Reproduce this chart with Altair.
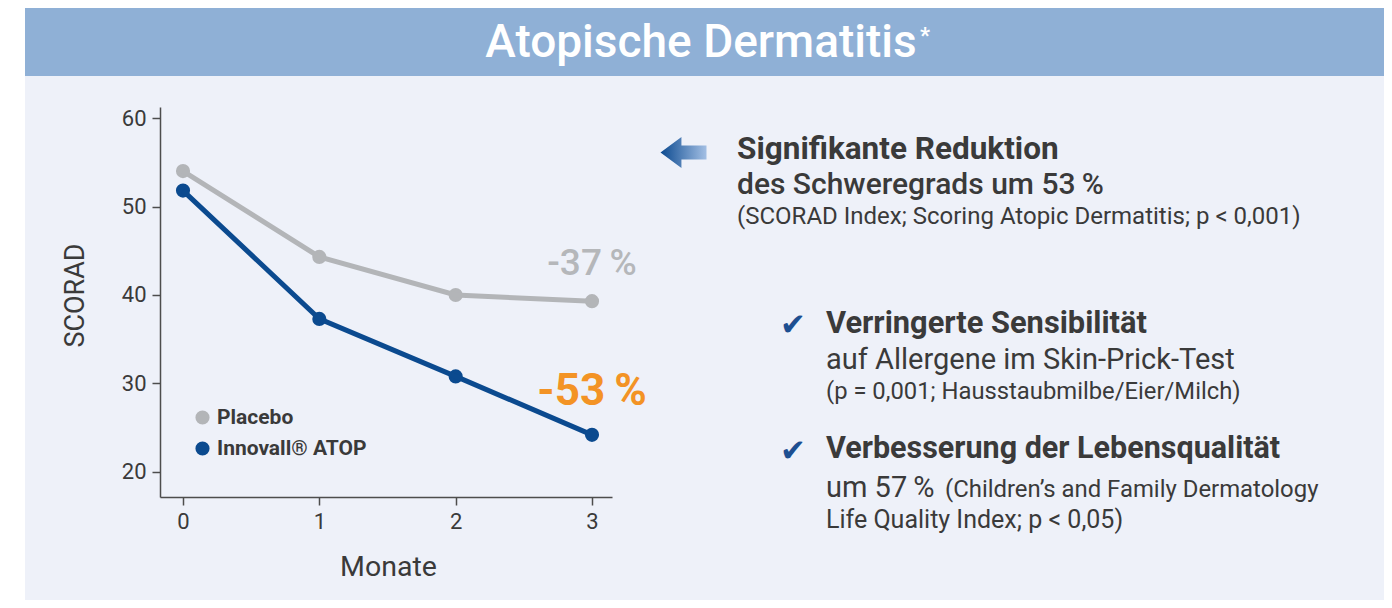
import altair as alt
import pandas as pd

# ---------------- data ----------------
months = [0, 1, 2, 3]
placebo = [54.0, 44.3, 40.0, 39.3]
innovall = [51.8, 37.3, 30.8, 24.2]
series_names = ["Placebo", "Innovall® ATOP"]
series_colors = ["#b3b5b8", "#0b4a8f"]
x_ticks = [0, 1, 2, 3]
y_ticks = [20, 30, 40, 50, 60]
annot_labels = ["-37\u2009%", "-53\u2009%"]
annot_x = [3, 3]
annot_y = [42.3, 27.6]

rows = []
for m, v in zip(months, placebo):
    rows.append({"month": m, "score": v, "series": series_names[0]})
for m, v in zip(months, innovall):
    rows.append({"month": m, "score": v, "series": series_names[1]})
df = pd.DataFrame(rows)
annot = pd.DataFrame({"label": annot_labels, "x": annot_x, "y": annot_y,
                      "kind": ["placebo", "innovall"]})

FONT = "Roboto"
TXT = "#3a3a3a"
AX = "#4d4d4d"

xscale = alt.Scale(domain=[-0.1687, 3.1467], nice=False, zero=False)
yscale = alt.Scale(domain=[17.175, 61.243], nice=False, zero=False)

xaxis = alt.Axis(values=x_ticks, format="d", title="Monate", titleFontSize=28.5,
                 titleFont=FONT, titleFontWeight="normal", titleColor=TXT,
                 titleX=228, titleY=78, titleBaseline="alphabetic", titleAlign="center",
                 labelFontSize=22, labelColor=TXT, labelFont=FONT, labelPadding=6,
                 tickSize=8, tickColor=AX, tickWidth=1.5, domainColor=AX, domainWidth=1.5,
                 grid=False, labelFlush=False, zindex=2)
yaxis = alt.Axis(values=y_ticks, format="d", title="SCORAD", titleFontSize=27,
                 titleFont=FONT, titleFontWeight="normal", titleColor=TXT,
                 titleX=-85, titleY=188, titleAngle=270, titleBaseline="middle",
                 titleAlign="center",
                 labelFontSize=22, labelColor=TXT, labelFont=FONT, labelPadding=6,
                 tickSize=8, tickColor=AX, tickWidth=1.5, domainColor=AX, domainWidth=1.5,
                 grid=False, zindex=2)

legend = alt.Legend(title=None, orient="none", legendX=32, legendY=300,
                    symbolType="circle", symbolSize=200, symbolStrokeWidth=0,
                    symbolOpacity=1, labelFontSize=21, labelFontWeight="bold",
                    labelFont=FONT, labelColor=TXT, labelOffset=4, rowPadding=9,
                    padding=0)

color = alt.Color("series:N", scale=alt.Scale(domain=series_names, range=series_colors),
                  legend=legend)

one = alt.Data(values=[{}])


def rect(x1, x2, y1, y2, c):
    return alt.Chart(one).mark_rect(color=c).encode(
        x=alt.value(x1), x2=alt.value(x2), y=alt.value(y1), y2=alt.value(y2))


def txt(s, x, y, size, weight="normal", c=TXT, align="left", font=FONT):
    return alt.Chart(one).mark_text(
        text=s, align=align, baseline="alphabetic", fontSize=size,
        fontWeight=weight, color=c, font=font).encode(x=alt.value(x), y=alt.value(y))


band = rect(-135, 1224, -100, -31, "#8fb0d6")
panel = rect(-135, 1224, -31, 493, "#eef1f9")

points = alt.Chart(df).mark_circle(size=200, opacity=1).encode(
    x=alt.X("month:Q", scale=xscale, axis=xaxis),
    y=alt.Y("score:Q", scale=yscale, axis=yaxis),
    color=color)
lines = alt.Chart(df).mark_line(strokeWidth=5).encode(
    x=alt.X("month:Q", scale=xscale, axis=xaxis),
    y=alt.Y("score:Q", scale=yscale, axis=yaxis),
    color=color)

ann37 = alt.Chart(annot).transform_filter(alt.datum.kind == "placebo").mark_text(
    align="center", baseline="alphabetic", fontSize=37, fontWeight=500,
    font=FONT, color="#b5b7ba").encode(
    x=alt.X("x:Q", scale=xscale), y=alt.Y("y:Q", scale=yscale), text="label:N")
ann53 = alt.Chart(annot).transform_filter(alt.datum.kind == "innovall").mark_text(
    align="center", baseline="alphabetic", fontSize=44, fontWeight="bold",
    font=FONT, color="#f39325").encode(
    x=alt.X("x:Q", scale=xscale), y=alt.Y("y:Q", scale=yscale), text="label:N")

arrow_path = "M -1 0 L -0.09 -0.67 L -0.09 -0.3 L 1 -0.3 L 1 0.3 L -0.09 0.3 L -0.09 0.67 Z"
arrow = alt.Chart(one).mark_point(
    shape=arrow_path, size=2116, filled=True, opacity=1, strokeWidth=0,
    fill=alt.LinearGradient(gradient="linear", x1=0, x2=1, y1=0, y2=0,
                            stops=[alt.GradientStop(color="#0c4a90", offset=0),
                                   alt.GradientStop(color="#a3bfe4", offset=1)])
).encode(x=alt.value(523.5), y=alt.value(45.5))

CHK = "#1d4f91"
texts = [
    txt("Atopische Dermatitis", 541, -50, 46, 500, "white", "center"),
    txt("*", 760, -64, 22, "bold", "white"),
    txt("Signifikante Reduktion", 577, 52, 31.5, "bold"),
    txt("des Schweregrads um 53\u2009%", 577, 87, 30, 500),
    txt("(SCORAD Index; Scoring Atopic Dermatitis; p < 0,001)", 577, 117, 24),
    txt("\u2714", 633, 228, 31, "normal", CHK, "center", "DejaVu Sans"),
    txt("Verringerte Sensibilität", 666, 226, 30.8, "bold"),
    txt("auf Allergene im Skin-Prick-Test", 666, 262, 29),
    txt("(p = 0,001; Hausstaubmilbe/Eier/Milch)", 666, 292, 23.8),
    txt("\u2714", 633, 354, 31, "normal", CHK, "center", "DejaVu Sans"),
    txt("Verbesserung der Lebensqualität", 666, 351, 30.5, "bold"),
    txt("um 57\u2009%", 666, 390, 29),
    txt("(Children’s and Family Dermatology", 785, 390, 23.9),
    txt("Life Quality Index; p < 0,05)", 666, 421, 25),
]

chart = alt.layer(band, panel, points, lines, ann37, ann53, arrow, *texts).properties(
    width=452, height=390,
    autosize=alt.AutoSizeParams(type="none"),
    padding={"left": 152, "top": 99, "right": 772, "bottom": 103},
    background="white",
).configure_view(stroke=None)

chart.save("out.html", embed_options={"renderer": "svg", "actions": False})
